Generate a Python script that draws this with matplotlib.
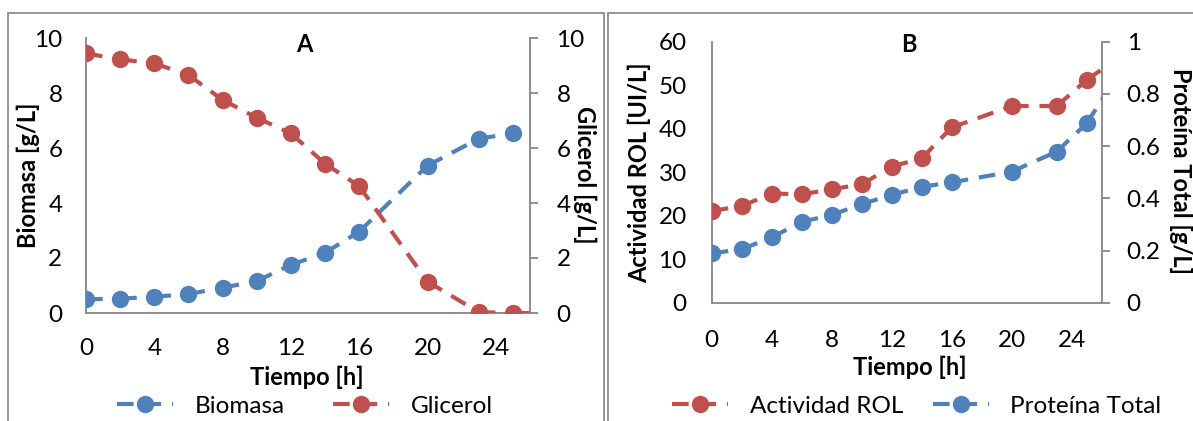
import matplotlib
matplotlib.use("Agg")
import matplotlib.pyplot as plt
from matplotlib.lines import Line2D
from matplotlib.patches import Rectangle

# --- data -------------------------------------------------------------
time_a = [0, 2, 4, 6, 8, 10, 12, 14, 16, 20, 23, 25]
biomasa = [0.50, 0.52, 0.59, 0.69, 0.92, 1.16, 1.75, 2.19, 2.96, 5.36, 6.34, 6.53]
time_glic = [0, 2, 4, 6, 8, 10, 12, 14, 16, 20, 23, 25, 27]
glicerol = [9.44, 9.22, 9.08, 8.65, 7.75, 7.10, 6.53, 5.43, 4.61, 1.14, 0.03, 0.0, 0.0]

time_b = [0, 2, 4, 6, 8, 10, 12, 14, 16, 20, 23, 25, 27]
actividad = [21.1, 22.2, 25.1, 24.9, 26.1, 27.2, 31.3, 33.2, 40.3, 45.2, 45.2, 51.2, 56.0]
proteina = [0.189, 0.205, 0.250, 0.310, 0.336, 0.378, 0.413, 0.444, 0.461, 0.502, 0.579, 0.687, 0.867]

x_ticks = [0, 4, 8, 12, 16, 20, 24]

BLUE = "#4F81BD"
RED = "#C0504D"
GRAY = "#868686"
W, H = 1193, 421
TICK_FS = 17.5
LABEL_FS = 17

plt.rcParams["font.family"] = ["Lato", "DejaVu Sans"]

fig = plt.figure(figsize=(W / 100, H / 100), dpi=100)


def px_axes(x0, y0, x1, y1):
    """Axes from pixel box (left, top, right, bottom)."""
    return fig.add_axes([x0 / W, 1 - y1 / H, (x1 - x0) / W, (y1 - y0) / H])


LW = 3.0
DASH = (4.0, 2.6)
MS = 12.5


def dashed_series(ax, x, y, color):
    # dash pattern restarts at every data point
    for i in range(len(x) - 1):
        ax.plot(x[i:i + 2], y[i:i + 2], color=color, lw=LW, dashes=DASH,
                solid_capstyle="butt", dash_capstyle="butt", zorder=2)
    ax.plot(x, y, linestyle="none", marker="o", ms=MS, color=color,
            markeredgewidth=0, zorder=3)


def handle(color):
    return Line2D([], [], color=color, lw=LW, dashes=DASH, marker="o",
                  ms=MS, markeredgewidth=0)


def style_axes(ax, ax2, xlabel_pad, left_pad, right_pad):
    for a in (ax, ax2):
        for s in a.spines.values():
            s.set_visible(False)
    ax.spines["left"].set_visible(True)
    ax.spines["bottom"].set_visible(True)
    ax2.spines["right"].set_visible(True)
    for s in (ax.spines["left"], ax.spines["bottom"], ax2.spines["right"]):
        s.set_color(GRAY)
        s.set_linewidth(1.3)
    ax.set_xlim(0, 26)
    ax.set_xticks(x_ticks)
    ax.tick_params(axis="x", length=0, pad=xlabel_pad, labelsize=TICK_FS)
    ax.tick_params(axis="y", length=0, pad=left_pad, labelsize=TICK_FS)
    ax2.tick_params(axis="y", length=6, width=1.3, color=GRAY, direction="out",
                    pad=right_pad, labelsize=TICK_FS)
    ax.patch.set_visible(False)
    ax2.patch.set_visible(False)


# --- panel A ----------------------------------------------------------
axA = px_axes(86, 38, 530, 313)
axA2 = axA.twinx()
dashed_series(axA, time_a, biomasa, BLUE)
dashed_series(axA2, time_glic, glicerol, RED)
axA.set_ylim(0, 10)
axA2.set_ylim(0, 10)
axA.set_yticks(range(0, 11, 2))
axA2.set_yticks(range(0, 11, 2))
style_axes(axA, axA2, 18, 17, 13)
axA2.set_zorder(axA.get_zorder() + 1)

# --- panel B ----------------------------------------------------------
axB = px_axes(711.7, 41.7, 1101.7, 302.7)
axB2 = axB.twinx()
dashed_series(axB, time_b, actividad, RED)
dashed_series(axB2, time_b, proteina, BLUE)
axB.set_ylim(0, 60)
axB.set_yticks(range(0, 61, 10))
axB2.set_ylim(0, 1)
axB2.set_yticks([0, 0.2, 0.4, 0.6, 0.8, 1])
axB2.set_yticklabels(["0", "0.2", "0.4", "0.6", "0.8", "1"])
style_axes(axB, axB2, 20, 18, 12)

# --- labels -----------------------------------------------------------
bold = dict(fontweight="bold", fontsize=LABEL_FS, ha="center", va="center")
fig.text(28 / W, 1 - 175 / H, "Biomasa [g/L]", rotation=90, **bold)
fig.text(585 / W, 1 - 175 / H, "Glicerol [g/L]", rotation=270, **bold)
fig.text(307 / W, 1 - 377 / H, "Tiempo [h]", **bold)
fig.text(304 / W, 1 - 44 / H, "A", **bold)

fig.text(639 / W, 1 - 173 / H, "Actividad ROL [UI/L]", rotation=90, **bold)
fig.text(1181 / W, 1 - 171 / H, "Proteína Total [g/L]", rotation=270, **bold)
fig.text(910 / W, 1 - 367 / H, "Tiempo [h]", **bold)
fig.text(909 / W, 1 - 45 / H, "B", **bold)

# --- legends ----------------------------------------------------------
fig.legend([handle(BLUE), handle(RED)], ["Biomasa", "Glicerol"],
           loc="center", bbox_to_anchor=(305 / W, 1 - 406 / H), ncol=2,
           frameon=False, fontsize=TICK_FS, handlelength=2.3, handletextpad=0.9,
           columnspacing=2.0, borderpad=0, borderaxespad=0)
fig.legend([handle(RED), handle(BLUE)], ["Actividad ROL", "Proteína Total"],
           loc="center", bbox_to_anchor=(917 / W, 1 - 406 / H), ncol=2,
           frameon=False, fontsize=TICK_FS, handlelength=2.3, handletextpad=0.9,
           columnspacing=1.2, borderpad=0, borderaxespad=0)

# --- chart-area frames ------------------------------------------------
frame = dict(fill=False, edgecolor="#8C8C8C", lw=1.3, transform=None)
fig.add_artist(Rectangle((8, -20), 596, H - 13 + 20, **frame))
fig.add_artist(Rectangle((608, -20), 620, H - 13 + 20, **frame))

fig.savefig("out.png", dpi=100)
